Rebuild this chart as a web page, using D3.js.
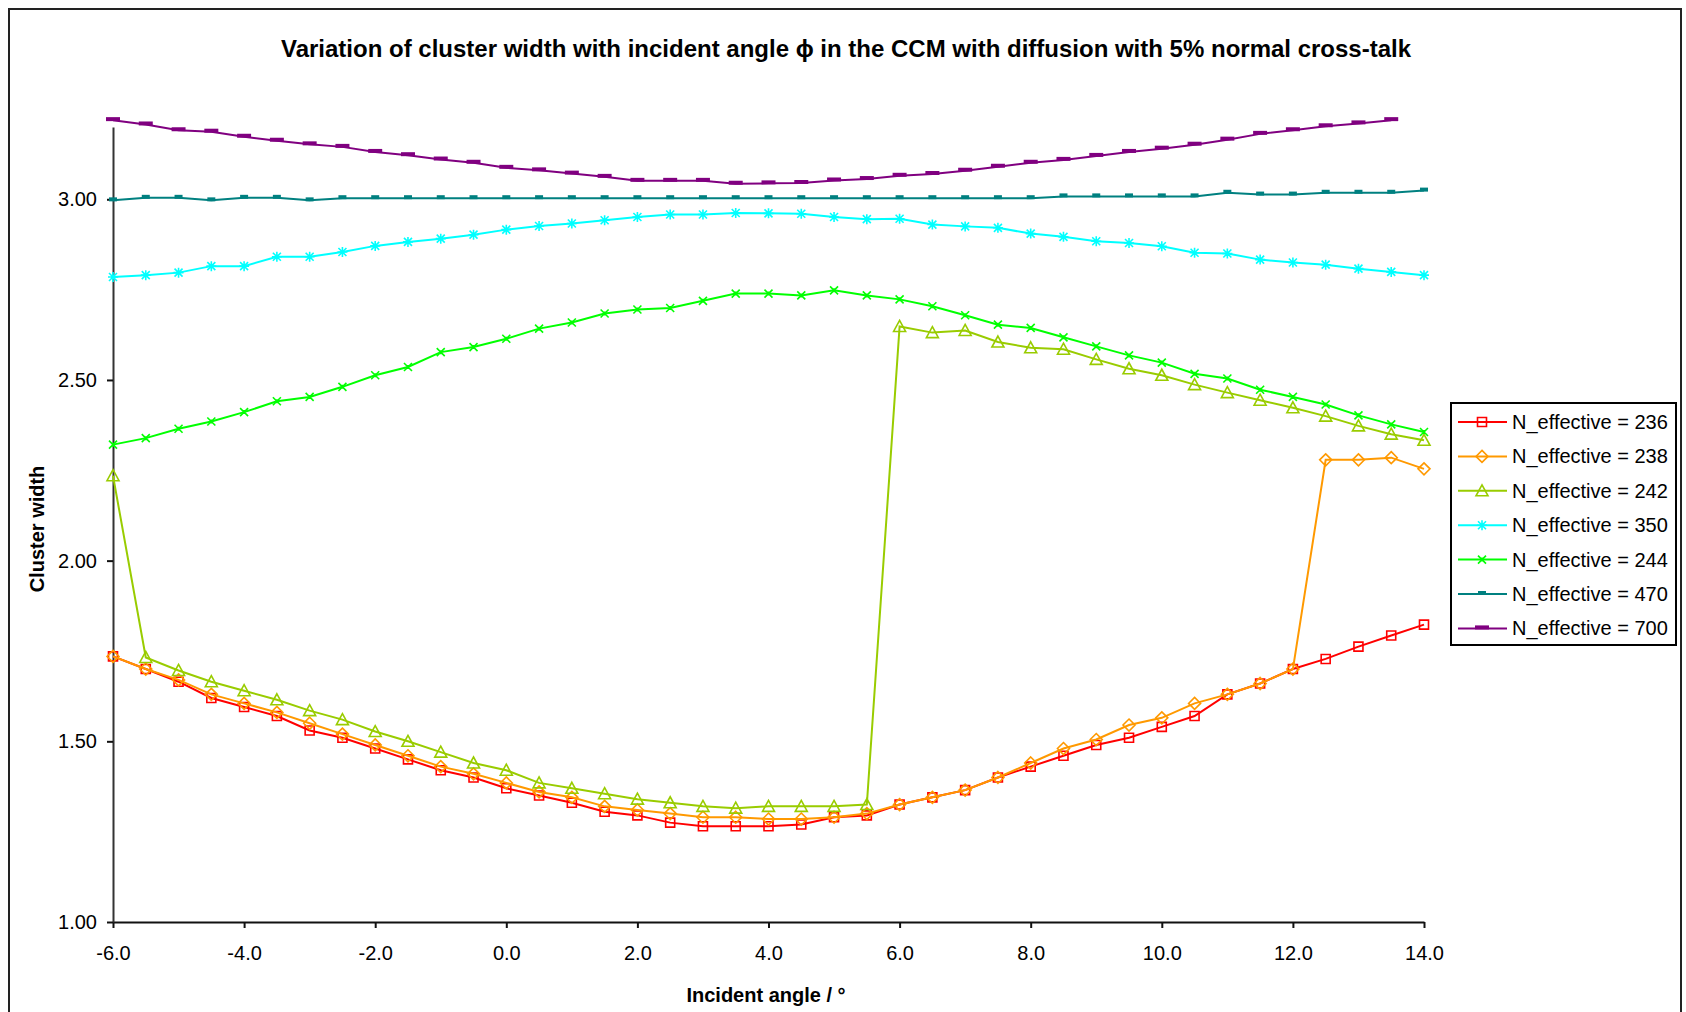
<!DOCTYPE html>
<html>
<head>
<meta charset="utf-8">
<script src="https://cdn.jsdelivr.net/npm/d3@7"></script>
<style>
  body { margin: 0; background: #fff; }
  svg text { font-family: "Liberation Sans", Arial, sans-serif; fill: #000; }
</style>
</head>
<body>
<div id="canvas"></div>
<script>
"use strict"

let drawingWidth = 1686;
let drawingHeight = 1012;

/* incident angle in degrees, one entry per data point */
let angles = [-6.0, -5.5, -5.0, -4.5, -4.0, -3.5, -3.0, -2.5, -2.0, -1.5, -1.0, -0.5,
    0.0, 0.5, 1.0, 1.5, 2.0, 2.5, 3.0, 3.5, 4.0, 4.5, 5.0, 5.5, 6.0, 6.5, 7.0, 7.5,
    8.0, 8.5, 9.0, 9.5, 10.0, 10.5, 11.0, 11.5, 12.0, 12.5, 13.0, 13.5, 14.0];

/* cluster width for each N_effective */
let n236 = [1.735, 1.700, 1.665, 1.620, 1.595, 1.570, 1.530, 1.510, 1.480, 1.450, 1.420, 1.400,
    1.370, 1.350, 1.330, 1.305, 1.295, 1.275, 1.265, 1.265, 1.265, 1.270, 1.290, 1.295,
    1.325, 1.345, 1.365, 1.400, 1.430, 1.460, 1.490, 1.510, 1.540, 1.570, 1.630, 1.660,
    1.700, 1.728, 1.762, 1.793, 1.823];
let n238 = [1.735, 1.700, 1.670, 1.630, 1.605, 1.580, 1.550, 1.520, 1.490, 1.460, 1.430, 1.410,
    1.385, 1.360, 1.345, 1.320, 1.310, 1.300, 1.290, 1.290, 1.285, 1.285, 1.290, 1.300,
    1.325, 1.345, 1.365, 1.400, 1.440, 1.480, 1.505, 1.545, 1.565, 1.605, 1.630, 1.660,
    1.700, 2.279, 2.279, 2.285, 2.254];
let n242 = [2.235, 1.732, 1.696, 1.665, 1.640, 1.615, 1.585, 1.560, 1.527, 1.500, 1.470, 1.440,
    1.420, 1.385, 1.370, 1.355, 1.340, 1.330, 1.320, 1.315, 1.320, 1.320, 1.320, 1.325,
    2.648, 2.631, 2.637, 2.605, 2.589, 2.585, 2.557, 2.531, 2.513, 2.487, 2.465, 2.444,
    2.423, 2.400, 2.373, 2.350, 2.333];
let n350 = [2.785, 2.790, 2.797, 2.815, 2.815, 2.841, 2.841, 2.854, 2.871, 2.882, 2.891, 2.902,
    2.916, 2.926, 2.933, 2.942, 2.951, 2.958, 2.958, 2.962, 2.961, 2.960, 2.951, 2.945,
    2.946, 2.930, 2.925, 2.921, 2.905, 2.896, 2.884, 2.879, 2.870, 2.852, 2.850, 2.833,
    2.825, 2.819, 2.808, 2.799, 2.790];
let n244 = [2.321, 2.339, 2.365, 2.385, 2.411, 2.441, 2.453, 2.481, 2.513, 2.536, 2.577, 2.591,
    2.614, 2.642, 2.659, 2.684, 2.695, 2.699, 2.719, 2.739, 2.739, 2.734, 2.748, 2.734,
    2.723, 2.704, 2.679, 2.653, 2.644, 2.618, 2.593, 2.568, 2.548, 2.517, 2.504, 2.473,
    2.453, 2.432, 2.402, 2.377, 2.356];
let n470 = [2.997, 3.004, 3.004, 2.997, 3.004, 3.004, 2.997, 3.003, 3.003, 3.003, 3.003, 3.003,
    3.003, 3.003, 3.003, 3.003, 3.003, 3.003, 3.003, 3.003, 3.003, 3.003, 3.003, 3.003,
    3.003, 3.003, 3.003, 3.003, 3.003, 3.008, 3.008, 3.008, 3.008, 3.008, 3.018, 3.013,
    3.013, 3.018, 3.018, 3.018, 3.024];
/* the N = 700 run stops at 13.5 degrees */
let n700 = [3.219, 3.207, 3.191, 3.187, 3.173, 3.162, 3.152, 3.145, 3.131, 3.122, 3.110, 3.101,
    3.087, 3.080, 3.071, 3.062, 3.051, 3.051, 3.051, 3.043, 3.044, 3.045, 3.052, 3.056,
    3.065, 3.070, 3.079, 3.090, 3.101, 3.109, 3.120, 3.131, 3.140, 3.151, 3.165, 3.181,
    3.191, 3.202, 3.210, 3.219];

let seriesValues = [n236, n238, n242, n350, n244, n470, n700];
let seriesNames = ["N_effective = 236", "N_effective = 238", "N_effective = 242",
    "N_effective = 350", "N_effective = 244", "N_effective = 470", "N_effective = 700"];
let seriesColors = ["#FF0000", "#FF9900", "#99CC00", "#00FFFF", "#00FF00", "#008080", "#800080"];
let seriesMarkers = ["square", "diamond", "triangle", "star", "cross", "shortDash", "longDash"];

let xTicks = [-6, -4, -2, 0, 2, 4, 6, 8, 10, 12, 14];
let yTicks = [1.0, 1.5, 2.0, 2.5, 3.0];

/* marker outlines, centred on 0,0 */
function markerPath(shape) {
    if (shape === "square") return "M-4.5,-4.5H4.5V4.5H-4.5Z";
    if (shape === "diamond") return "M0,-6L6,0L0,6L-6,0Z";
    if (shape === "triangle") return "M0,-6L6,5H-6Z";
    if (shape === "star") return "M-5,0H5M0,-5V5M-4,-4L4,4M-4,4L4,-4";
    if (shape === "cross") return "M-4,-4L4,4M-4,4L4,-4M0,-2V2";
    if (shape === "shortDash") return "M-4,-3H4V1H-4Z";
    return "M-7,-3H7V1H-7Z";
}
function markerFilled(shape) {
    return shape === "shortDash" || shape === "longDash";
}

let drawing = d3.select("#canvas")
    .append("svg")
    .attr("width", drawingWidth)
    .attr("height", drawingHeight);

/* white background and the outer chart frame */
drawing.append("rect")
    .attr("width", drawingWidth)
    .attr("height", drawingHeight)
    .attr("fill", "white");

drawing.append("rect")
    .attr("x", 9)
    .attr("y", 9)
    .attr("width", 1672)
    .attr("height", 1012)
    .attr("fill", "none")
    .attr("stroke", "#222")
    .attr("stroke-width", 2);

let x = d3.scaleLinear().domain([-6, 14]).range([113, 1424]);
let y = d3.scaleLinear().domain([1, 3.2]).range([922, 127]);

/* title */
drawing.append("text")
    .attr("x", 846)
    .attr("y", 57)
    .attr("text-anchor", "middle")
    .attr("font-size", 24)
    .attr("font-weight", "bold")
    .text("Variation of cluster width with incident angle \u03D5 in the CCM with diffusion with 5% normal cross-talk");

/* axes */
let xAxis = drawing.append("g")
    .attr("transform", "translate(0,922)")
    .call(d3.axisBottom(x)
        .tickValues(xTicks)
        .tickSize(6)
        .tickSizeOuter(0)
        .tickPadding(18)
        .tickFormat(d => d.toFixed(1)));

let yAxis = drawing.append("g")
    .attr("transform", "translate(113,0)")
    .call(d3.axisLeft(y)
        .tickValues(yTicks)
        .tickSize(6)
        .tickSizeOuter(0)
        .tickPadding(10)
        .tickFormat(d => d.toFixed(2)));

drawing.selectAll(".domain, .tick line")
    .attr("stroke", "#111")
    .attr("stroke-width", 2);
yAxis.select(".domain").attr("stroke", "#333");
drawing.selectAll(".tick text")
    .attr("font-size", 20)
    .attr("font-family", "Liberation Sans, Arial, sans-serif")
    .attr("fill", "#000");

/* axis titles */
drawing.append("text")
    .attr("transform", "translate(44,529) rotate(-90)")
    .attr("text-anchor", "middle")
    .attr("font-size", 20)
    .attr("font-weight", "bold")
    .text("Cluster width");

drawing.append("text")
    .attr("x", 766)
    .attr("y", 1002)
    .attr("text-anchor", "middle")
    .attr("font-size", 20)
    .attr("font-weight", "bold")
    .text("Incident angle / \u00B0");

/* series lines and markers */
let line = d3.line()
    .x((d, i) => x(angles[i]))
    .y(d => y(d));

seriesValues.forEach(function (values, s) {
    let color = seriesColors[s];
    let shape = seriesMarkers[s];
    let group = drawing.append("g");

    group.append("path")
        .attr("d", line(values))
        .attr("fill", "none")
        .attr("stroke", color)
        .attr("stroke-width", 2);

    group.selectAll("path.marker")
        .data(values)
        .enter()
        .append("path")
        .attr("class", "marker")
        .attr("transform", (d, i) => "translate(" + x(angles[i]) + "," + y(d) + ")")
        .attr("d", markerPath(shape))
        .attr("fill", markerFilled(shape) ? color : "none")
        .attr("stroke", markerFilled(shape) ? "none" : color)
        .attr("stroke-width", 1.6);
});

/* legend */
let legend = drawing.append("g");

legend.append("rect")
    .attr("x", 1451)
    .attr("y", 403)
    .attr("width", 225)
    .attr("height", 242)
    .attr("fill", "white")
    .attr("stroke", "#000")
    .attr("stroke-width", 2);

seriesNames.forEach(function (name, s) {
    let rowY = 422 + s * 34.4;
    let color = seriesColors[s];
    let shape = seriesMarkers[s];

    legend.append("line")
        .attr("x1", 1458)
        .attr("x2", 1507)
        .attr("y1", rowY)
        .attr("y2", rowY)
        .attr("stroke", color)
        .attr("stroke-width", 2);

    legend.append("path")
        .attr("transform", "translate(1482," + rowY + ")")
        .attr("d", markerPath(shape))
        .attr("fill", markerFilled(shape) ? color : "none")
        .attr("stroke", markerFilled(shape) ? "none" : color)
        .attr("stroke-width", 1.6);

    legend.append("text")
        .attr("x", 1512)
        .attr("y", rowY + 7)
        .attr("font-size", 20)
        .text(name);
});
</script>
</body>
</html>
